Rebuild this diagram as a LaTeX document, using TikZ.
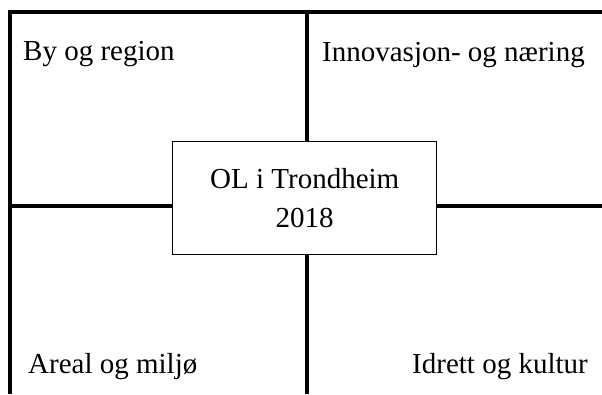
\documentclass[tikz,border=0pt]{standalone}
\usepackage{fontspec}
\setmainfont{Liberation Serif}
\usepackage{tikz}
\usetikzlibrary{positioning}

\begin{document}
\begin{tikzpicture}[
    x=1pt, y=1pt,
    frame/.style={line width=3.2pt},
    centerbox/.style={rectangle, draw, line width=1.2pt, minimum width=264pt, minimum height=113pt, align=center, font=\fontsize{29}{38.7}\selectfont},
    area/.style={inner sep=0pt, font=\fontsize{29}{34}\selectfont}
]
\useasboundingbox (0,0) rectangle (602,394);

\coordinate (tl) at (10,382);
\coordinate (tr) at (602,382);
\coordinate (bl) at (10,0);
\coordinate (ml) at (10,188);
\coordinate (mr) at (602,188);
\coordinate (tm) at (307,382);
\coordinate (bm) at (307,0);

\node[centerbox] (ol) at (304.7,195.7) {OL i Trondheim\\2018};

\node[area, anchor=base west] (by) at (23,333) {By og region};
\node[area, anchor=base west] (innovasjon) at (322,332) {Innovasjon- og næring};
\node[area, anchor=base west] (areal) at (28,21) {Areal og miljø};
\node[area, anchor=base west] (idrett) at (412,21) {Idrett og kultur};

\draw[frame] (tr) -- (tl) -- (bl);
\draw[frame] (tm) -- (tm |- ol.north);
\draw[frame] (bm) -- (bm |- ol.south);
\draw[frame] (ml) -- (ol.west |- ml);
\draw[frame] (mr) -- (ol.east |- mr);

\end{tikzpicture}
\end{document}
